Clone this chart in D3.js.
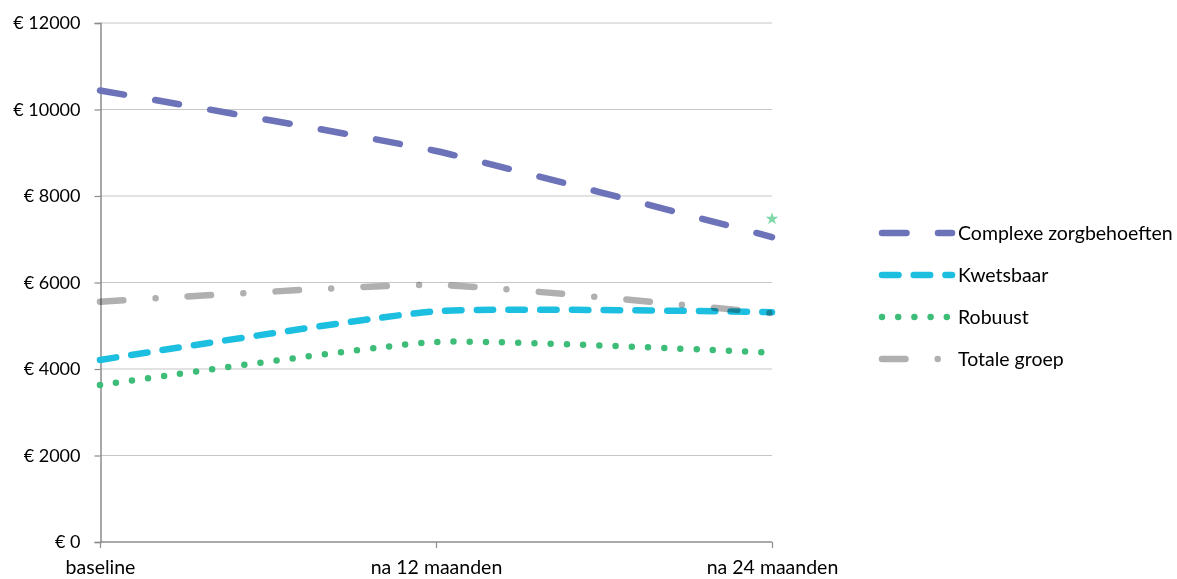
<!DOCTYPE html>
<html>
<head>
<meta charset="utf-8">
<script src="https://cdn.jsdelivr.net/npm/d3@7"></script>
<style>
  html, body { margin: 0; padding: 0; background: #fff; }
  svg { display: block; font-family: Lato, "Open Sans", sans-serif; }
</style>
</head>
<body>
<svg id="chart" width="1177" height="579"></svg>
<script>
// ---- data ----
const categories = ["baseline", "na 12 maanden", "na 24 maanden"];
const seriesNames = ["Complexe zorgbehoeften", "Kwetsbaar", "Robuust", "Totale groep"];
const complexe = [10440, 9040, 7050];
const kwetsbaar = [4210, 5335, 5315];
const robuust = [3630, 4625, 4375];
const totale = [5555, 5945, 5290];
const yTicks = [0, 2000, 4000, 6000, 8000, 10000, 12000];
const starMarker = [{ category: "na 24 maanden", value: 7470 }];

// ---- styles ----
const colors = ["#6d73b8", "#1cbfe0", "#3dbd78", "#b0b0b0"];
const W = 6.5;
const dashes = ["24.5,31.5", "16.5,15.2", "0,16.2", "23.5,32.2,0,32.2"];

const svg = d3.select("#chart");
const x = d3.scalePoint().domain(categories).range([100, 772]);
const y = d3.scaleLinear().domain([0, 12000]).range([542, 23]);

// gridlines
svg.append("g").selectAll("line").data(yTicks.filter(d => d > 0)).join("line")
  .attr("x1", 100).attr("x2", 772)
  .attr("y1", d => y(d)).attr("y2", d => y(d))
  .attr("stroke", "#c6c6c6").attr("stroke-width", 1.2);

// y axis
const yAxis = d3.axisLeft(y).tickValues(yTicks).tickSize(6).tickPadding(14)
  .tickFormat(d => "€ " + d);
const gy = svg.append("g").attr("transform", "translate(100.5,0)").call(yAxis);
gy.select(".domain").attr("stroke", "#8c8c8c").attr("stroke-width", 1.5);
gy.selectAll(".tick line").attr("stroke", "#8c8c8c").attr("stroke-width", 1.2);
gy.selectAll("text").attr("font-size", 18).attr("fill", "#000")
  .attr("font-family", "Lato, sans-serif");

// x axis
const xAxis = d3.axisBottom(x).tickSize(6).tickPadding(12);
const gx = svg.append("g").attr("transform", "translate(0,542)").call(xAxis);
gx.select(".domain").attr("stroke", "#8c8c8c").attr("stroke-width", 1.5)
  .attr("d", "M100,0H772");
gx.selectAll(".tick line").attr("stroke", "#8c8c8c").attr("stroke-width", 1.2);
gx.selectAll("text").attr("font-size", 19.5).attr("fill", "#000")
  .attr("font-family", "Lato, sans-serif");

// lines
const data = [complexe, kwetsbaar, robuust, totale];
const line = d3.line().x((d, i) => x(categories[i])).y(d => y(d))
  .curve(d3.curveCardinal.tension(0.5));
svg.append("g").selectAll("path").data(data).join("path")
  .attr("d", d => line(d))
  .attr("fill", "none")
  .attr("stroke", (d, i) => colors[i])
  .attr("stroke-width", W)
  .attr("stroke-linecap", "round")
  .attr("stroke-dasharray", (d, i) => dashes[i])
  .style("mix-blend-mode", (d, i) => i === 3 ? "multiply" : null);

// star marker
svg.append("g").selectAll("path").data(starMarker).join("path")
  .attr("transform", d => `translate(${x(d.category)},${y(d.value)})`)
  .attr("d", d3.symbol(d3.symbolStar, 50))
  .attr("fill", "#80d8a8");

// legend
const lg = svg.append("g").selectAll("g").data(seriesNames).join("g")
  .attr("transform", (d, i) => `translate(0,${233 + i * 42})`);
lg.append("line").attr("x1", 882).attr("x2", 952).attr("y1", 0).attr("y2", 0)
  .attr("stroke", (d, i) => colors[i]).attr("stroke-width", W)
  .attr("stroke-linecap", "round").attr("stroke-dasharray", (d, i) => dashes[i]);
lg.append("text").attr("x", 958).attr("y", 0).attr("dy", "0.36em")
  .attr("font-size", 19.5).attr("fill", "#000").text(d => d);
</script>
</body>
</html>
